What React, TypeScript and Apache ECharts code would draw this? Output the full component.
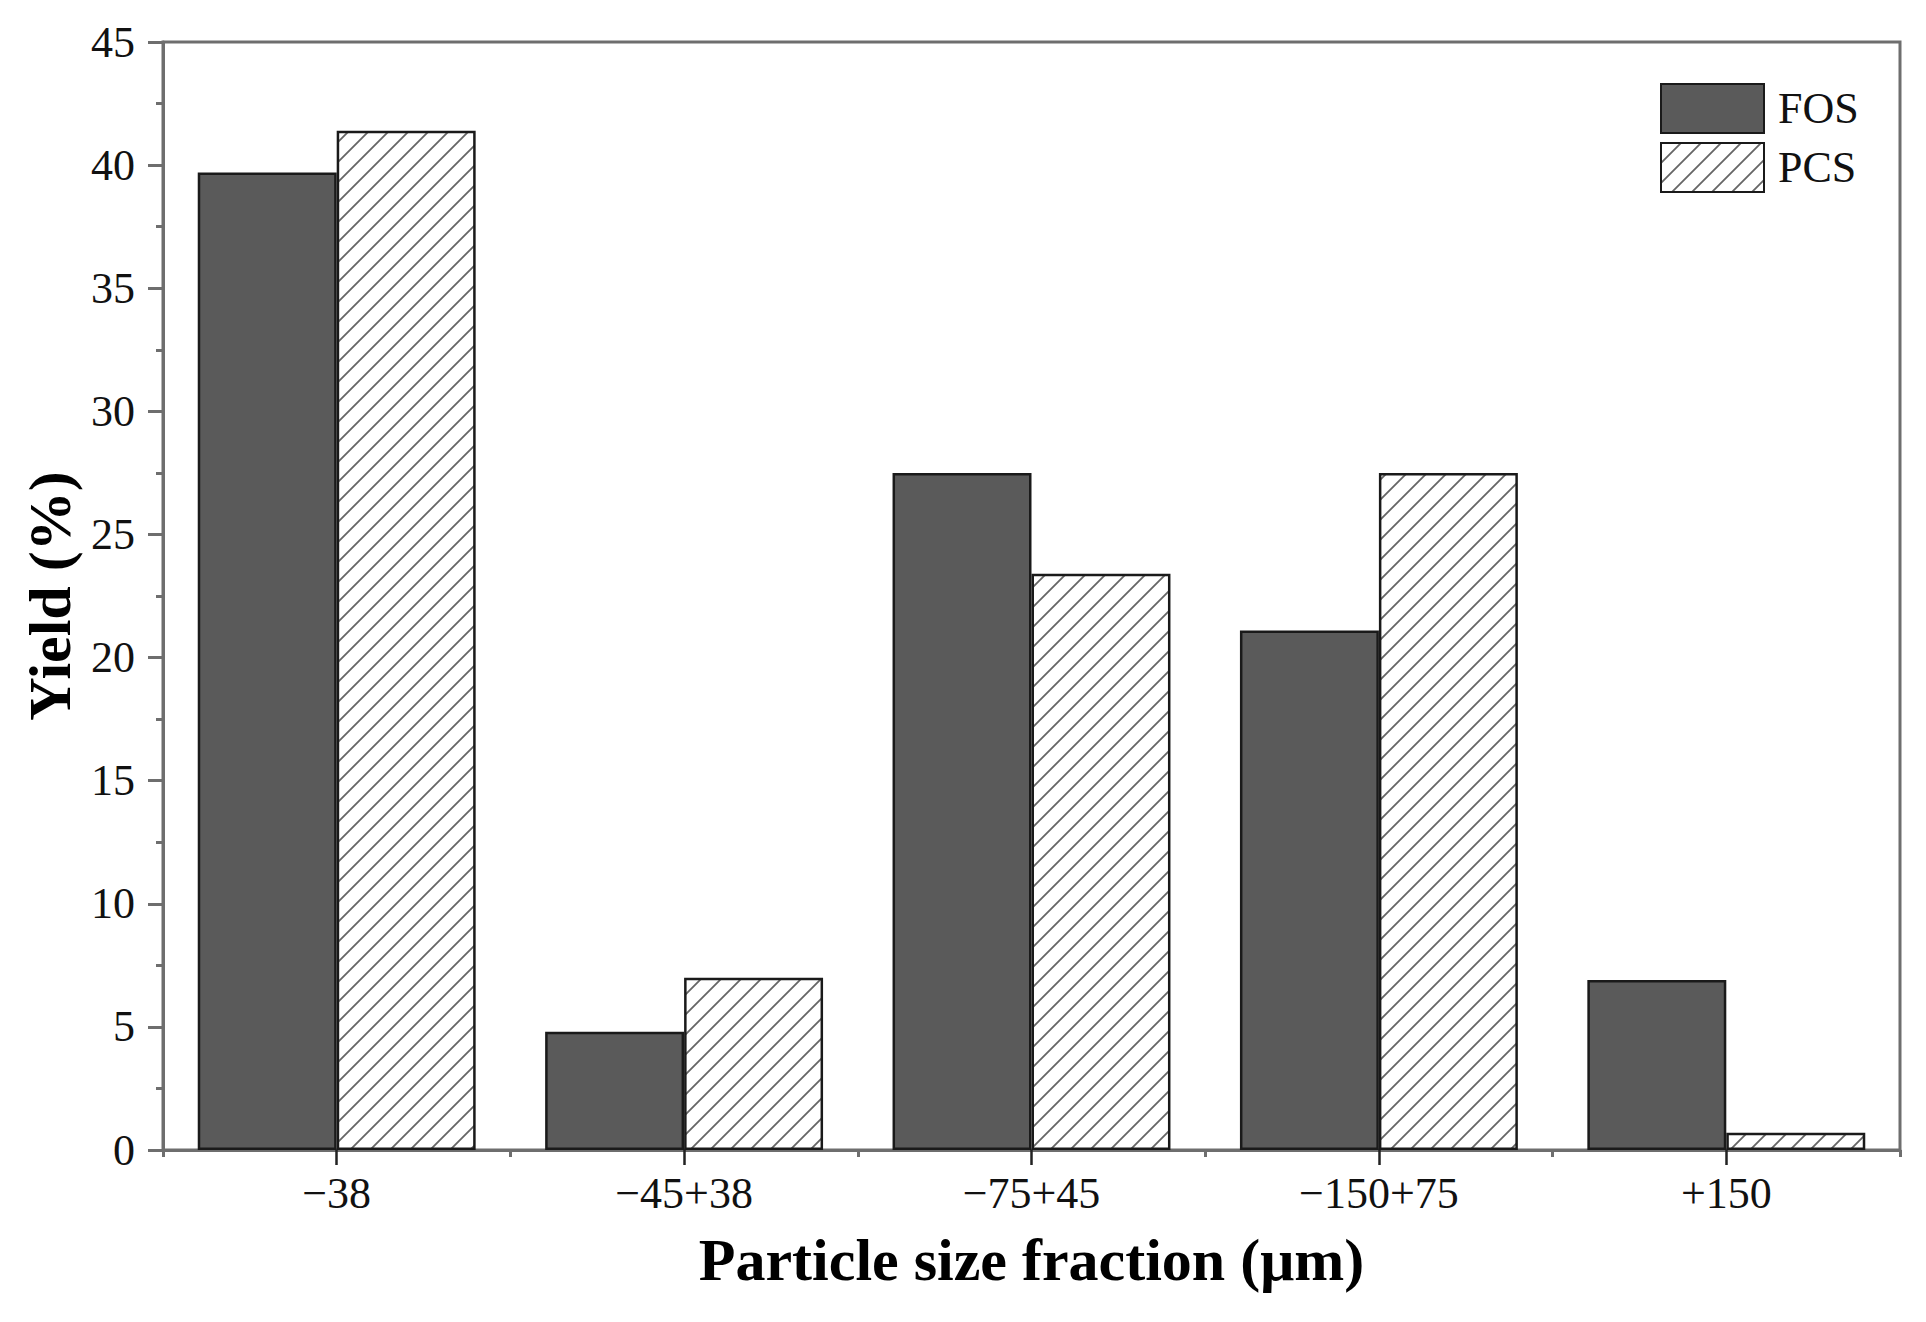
import React, { useEffect, useRef } from "react";
import * as echarts from "echarts";

const categories = ["\u221238", "\u221245+38", "\u221275+45", "\u2212150+75", "+150"];
const fosValues = [39.7, 4.8, 27.5, 21.1, 6.9];
const pcsValues = [41.4, 7.0, 23.4, 27.5, 0.7];
const yTicks = { min: 0, max: 45, interval: 5 };

function makeHatch(): HTMLCanvasElement {
  const c = document.createElement("canvas");
  const s = 20;
  c.width = s;
  c.height = s;
  const ctx = c.getContext("2d")!;
  ctx.fillStyle = "#ffffff";
  ctx.fillRect(0, 0, s, s);
  ctx.strokeStyle = "#666666";
  ctx.lineWidth = 1.8;
  ctx.beginPath();
  ctx.moveTo(-2, s + 2);
  ctx.lineTo(s + 2, -2);
  ctx.moveTo(-2, 2);
  ctx.lineTo(2, -2);
  ctx.moveTo(s - 2, s + 2);
  ctx.lineTo(s + 2, s - 2);
  ctx.stroke();
  return c;
}

export default function App() {
  const ref = useRef<HTMLDivElement>(null);
  useEffect(() => {
    if (!ref.current) return;
    const chart = echarts.init(ref.current, undefined, { renderer: "svg" });
    const serif = "'Liberation Serif', 'Times New Roman', serif";
    const axisGray = "#6e6e6e";
    const hatch = makeHatch();
    chart.setOption({
      animation: false,
      backgroundColor: "#ffffff",
      grid: {
        left: 163,
        right: 26,
        top: 42,
        bottom: 172,
        show: true,
        borderColor: axisGray,
        borderWidth: 3,
        backgroundColor: "transparent",
      },
      legend: {
        orient: "vertical",
        left: 1655,
        top: 78,
        itemWidth: 103,
        itemHeight: 49,
        itemGap: 8,
        icon: "rect",
        textStyle: {
          fontFamily: serif,
          fontSize: 44,
          color: "#111",
          padding: [0, 0, 0, 9],
        },
        data: ["FOS", "PCS"],
      },
      xAxis: [
        {
          type: "category",
          data: categories,
          position: "bottom",
          axisLine: { show: true, lineStyle: { color: axisGray, width: 3 } },
          axisTick: {
            show: true,
            alignWithLabel: true,
            length: 15,
            lineStyle: { color: "#222", width: 2.5 },
          },
          axisLabel: {
            fontFamily: serif,
            fontSize: 44,
            color: "#111",
            margin: 21,
          },
          name: "Particle size fraction (\u03bcm)",
          nameLocation: "middle",
          nameGap: 80,
          nameTextStyle: {
            fontFamily: serif,
            fontSize: 60,
            fontWeight: "bold",
            color: "#000",
          },
          splitLine: { show: false },
        },
        {
          type: "category",
          data: categories,
          position: "bottom",
          axisLine: { show: false },
          axisTick: {
            show: true,
            alignWithLabel: false,
            length: 7,
            lineStyle: { color: axisGray, width: 3 },
          },
          axisLabel: { show: false },
          splitLine: { show: false },
        },
      ],
      yAxis: {
        type: "value",
        min: yTicks.min,
        max: yTicks.max,
        interval: yTicks.interval,
        axisLine: { show: true, lineStyle: { color: axisGray, width: 3 } },
        axisTick: { show: true, length: 15, lineStyle: { color: axisGray, width: 3 } },
        minorTick: { show: true, splitNumber: 2, length: 7, lineStyle: { color: axisGray, width: 3 } },
        axisLabel: { fontFamily: serif, fontSize: 44, color: "#111", margin: 28 },
        splitLine: { show: false },
        name: "Yield (%)",
        nameLocation: "middle",
        nameGap: 82,
        nameTextStyle: {
          fontFamily: serif,
          fontSize: 60,
          fontWeight: "bold",
          color: "#000",
        },
      },
      series: [
        {
          name: "FOS",
          type: "bar",
          xAxisIndex: 0,
          data: fosValues,
          barWidth: "40%",
          barGap: "0%",
          itemStyle: { color: "#5a5a5a", borderColor: "#1a1a1a", borderWidth: 2.5 },
        },
        {
          name: "PCS",
          type: "bar",
          xAxisIndex: 0,
          data: pcsValues,
          barWidth: "40%",
          barGap: "0%",
          itemStyle: {
            color: { image: hatch, repeat: "repeat" },
            borderColor: "#1a1a1a",
            borderWidth: 2.5,
          },
        },
      ],
    });
    return () => chart.dispose();
  }, []);
  return (
    <div
      ref={ref}
      style={{ position: "fixed", left: 0, top: 0, width: 1926, height: 1322, background: "#fff" }}
    />
  );
}
